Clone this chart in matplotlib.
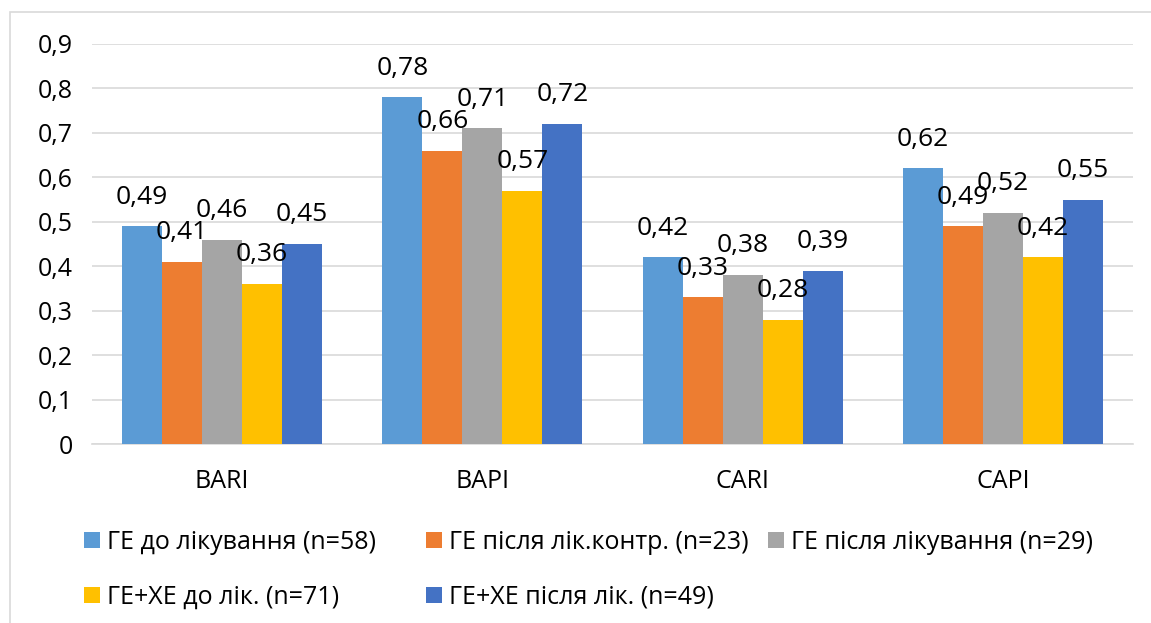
import matplotlib.pyplot as plt
from matplotlib.patches import Rectangle
import numpy as np

plt.rcParams['font.family'] = ['Open Sans', 'DejaVu Sans']

categories = ['BARI', 'BAPI', 'CARI', 'CAPI']
series_names = ['ГЕ до лікування (n=58)', 'ГЕ після лік.контр. (n=23)',
                'ГЕ після лікування (n=29)', 'ГЕ+ХЕ до лік. (n=71)',
                'ГЕ+ХЕ після лік. (n=49)']
values = [
    [0.49, 0.78, 0.42, 0.62],
    [0.41, 0.66, 0.33, 0.49],
    [0.46, 0.71, 0.38, 0.52],
    [0.36, 0.57, 0.28, 0.42],
    [0.45, 0.72, 0.39, 0.55],
]
colors = ['#5B9BD5', '#ED7D31', '#A5A5A5', '#FFC000', '#4472C4']
y_ticks = [0, 0.1, 0.2, 0.3, 0.4, 0.5, 0.6, 0.7, 0.8, 0.9]

W, H = 1151, 623
fig = plt.figure(figsize=(W / 100, H / 100), dpi=100)
ax = fig.add_axes([92 / W, 1 - 444 / H, (1133 - 92) / W, 400 / H])

# outer chart frame
fig.patches.append(Rectangle((10 / W, -0.1), 1.2, 1 - 12 / H + 0.1,
                             transform=fig.transFigure, fill=False,
                             edgecolor='#D9D9D9', linewidth=1.2))

x = np.arange(len(categories))
w = 40 / 260
bars = []
for i, (vals, c) in enumerate(zip(values, colors)):
    pos = x + (i - 2) * w
    b = ax.bar(pos, vals, width=w, color=c, label=series_names[i], zorder=3)
    bars.append(b)
    for px, v in zip(pos, vals):
        ax.annotate(f'{v:.2f}'.replace('.', ','), (px, v), xytext=(0, 21),
                    textcoords='offset points', ha='center', va='center',
                    fontsize=19, color='#000000', zorder=4)

ax.set_xlim(-0.5, len(categories) - 0.5)
ax.set_ylim(0, 0.9)
ax.set_yticks(y_ticks)
ax.set_yticklabels([('%g' % t).replace('.', ',') for t in y_ticks], fontsize=18)
ax.set_xticks(x)
ax.set_xticklabels(categories, fontsize=18)
ax.tick_params(length=0, pad=14)
ax.tick_params(axis='x', pad=18)
ax.grid(axis='y', color='#D9D9D9', linewidth=1.2, zorder=0)
for s in ['top', 'right', 'left']:
    ax.spines[s].set_visible(False)
ax.spines['bottom'].set_color('#D9D9D9')
ax.spines['bottom'].set_linewidth(1.2)

# legend: three equal-width columns, filled top to bottom
col_x = [84, 426, 768]
for j, cx in enumerate(col_x):
    idx = [k for k in (j, j + 3) if k < len(series_names)]
    fig.legend([bars[k] for k in idx], [series_names[k] for k in idx],
               loc='upper left', bbox_to_anchor=(cx / W, 1 - 530 / H),
               frameon=False, fontsize=18, borderpad=0, borderaxespad=0,
               handlelength=0.64, handleheight=0.64, handletextpad=0.28,
               labelspacing=1.2)

fig.savefig('out.png', dpi=100)
